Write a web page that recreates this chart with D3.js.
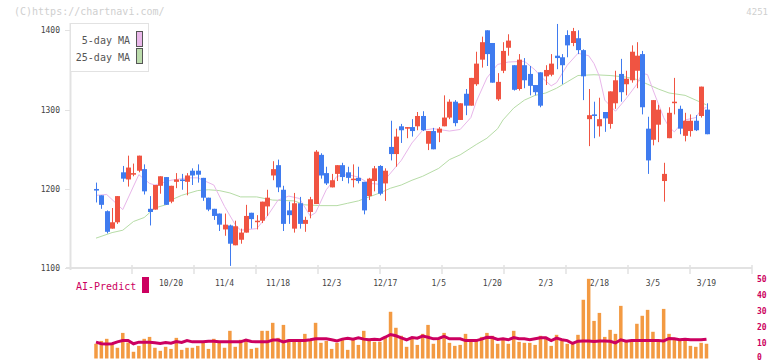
<!DOCTYPE html>
<html>
<head>
<meta charset="utf-8">
<script src="https://cdn.jsdelivr.net/npm/d3@7"></script>
<style>
	body { margin: 0; background: #fff; }
	text { font-family: "DejaVu Sans Mono", monospace; }
</style>
</head>
<body>
<svg id="chart"></svg>
<script>
// daily candles: open, high, low, close (red = up, blue = down)
var opens  = [1200,1192,1172,1150,1158,1221,1212,1218,1223,1225,1175,1174,1204,1215,1184,1209,1212,1209,1223,1223,1214,1189,1175,1169,1149,1154,1129,1136,1145,1170,
              1159,1160,1178,1217,1230,1199,1173,1150,1182,1156,1171,1181,1243,1220,1202,1219,1230,1221,1212,1214,1209,1191,1210,1229,1207,1253,1244,1279,1276,1278,
              1279,1292,1257,1273,1271,1279,1290,1310,1287,1320,1305,1332,1363,1400,1384,1313,1349,1378,1356,1326,1356,1345,1331,1347,1342,1344,1368,1366,1394,1384,
              1390,1375,1288,1294,1279,1297,1282,1308,1345,1332,1337,1349,1370,1276,1262,1281,1210,1264,1309,1301,1267,1273,1286,1292,1300];
var highs  = [1208,1192,1173,1176,1191,1229,1242,1232,1242,1231,1191,1205,1216,1215,1204,1220,1219,1220,1226,1231,1214,1189,1175,1169,1169,1155,1160,1150,1180,1170,
              1167,1184,1199,1235,1237,1204,1184,1195,1190,1165,1190,1249,1245,1228,1219,1230,1233,1228,1231,1228,1209,1214,1229,1230,1226,1286,1276,1282,1278,1288,
              1297,1298,1273,1277,1278,1318,1313,1312,1308,1326,1340,1373,1392,1400,1384,1346,1385,1395,1356,1370,1365,1355,1331,1347,1356,1370,1408,1370,1400,1403,
              1400,1376,1326,1310,1315,1297,1323,1349,1364,1349,1381,1385,1374,1291,1312,1306,1233,1303,1340,1305,1296,1294,1293,1329,1308];
var lows   = [1183,1175,1144,1150,1156,1209,1203,1216,1221,1193,1154,1174,1194,1180,1182,1201,1199,1192,1205,1208,1185,1172,1161,1147,1141,1103,1129,1131,1145,1150,
              1149,1157,1166,1211,1196,1147,1156,1145,1150,1146,1163,1181,1213,1205,1202,1210,1210,1207,1202,1207,1168,1186,1197,1192,1185,1236,1228,1258,1264,1266,
              1274,1273,1249,1250,1259,1279,1288,1279,1287,1293,1305,1330,1353,1355,1334,1311,1346,1368,1324,1324,1327,1318,1318,1303,1331,1342,1351,1332,1366,1380,
              1370,1312,1254,1264,1266,1272,1276,1301,1310,1318,1334,1327,1294,1219,1255,1259,1184,1264,1294,1269,1260,1266,1273,1290,1269];
var closes = [1198,1180,1146,1158,1191,1213,1227,1220,1242,1197,1171,1205,1216,1180,1204,1212,1210,1217,1217,1218,1189,1174,1166,1155,1155,1131,1153,1145,1166,1162,
              1160,1184,1189,1225,1202,1156,1167,1182,1156,1161,1187,1247,1217,1207,1211,1230,1215,1214,1213,1210,1173,1213,1226,1194,1223,1244,1266,1274,1278,1273,
              1292,1274,1273,1250,1276,1290,1310,1283,1308,1305,1340,1358,1385,1370,1334,1335,1374,1387,1325,1363,1337,1330,1322,1305,1350,1358,1365,1356,1381,1399,
              1375,1342,1293,1292,1288,1289,1323,1337,1322,1339,1373,1368,1303,1236,1312,1300,1219,1296,1310,1276,1286,1286,1274,1329,1269];

// volume (right axis) and AI-Predict line
var volumes = [9.2,11,12.3,9,6.7,16,10,4.2,7.9,12.3,13.5,6.7,4.8,7.3,6,12.9,5.4,6.7,6.7,7.9,9.8,6,12.3,10.4,6.7,17.3,7.3,11.7,11.7,6,
               6.7,17.3,17.3,22.3,12.9,21,11.7,11,11,15.4,11,22.3,9.8,11,6,9.8,11.7,5.4,11.7,8.5,17.3,11,10.4,10.4,13.5,29.2,19.2,14.2,7.3,12.3,
               8.5,15.4,21,9.2,11.7,16,9.8,7.9,8.5,15.4,11.7,11,13.5,16,14.2,9.2,11.7,9.2,17.3,10.4,9.8,9.8,8.5,14.2,13.5,7.9,14.8,11,9.2,9.2,
               14.8,36.7,49.8,23.5,28.5,13.5,17.9,15.4,32.9,11,11,21.7,26.7,30.4,16.7,11,31,15.4,12.9,11,12.3,7.9,7.3,9.8,9.2];
var aiPredict = [10.2,9.2,9,9.2,10.4,11.2,11.2,9.2,10.2,10.2,10.2,9.8,9.4,10,9.6,10.6,10,11.2,10.4,10.4,10.4,10.8,10.8,10.4,10.4,10.4,10.4,10.4,11.5,10.6,
                 10.4,10.4,10.4,11.5,11.5,10.4,11.2,11.2,11.2,11.2,11.7,12.3,12.3,12.3,11.7,11,12.1,12.7,12.1,12.9,12.1,11.7,12.1,11.7,13.3,15,14.2,12.9,11.7,13.1,
                 12.7,14,13.3,12.3,12.5,13.8,12.3,12.3,12.3,11.2,11.2,11.2,12.1,13.3,13.1,11.9,12.3,11.7,13.1,12.3,12.3,11.7,12.3,12.9,12.9,11.2,12.7,11.7,11.2,9.4,
                 10.8,11,11,10.6,11,11,10.8,9.8,11.7,10.8,11.2,11.2,11.2,11.2,11.2,11.2,11,12.5,12.3,11.7,12.1,11.7,11.7,11.7,12.1];

// moving averages: [day index, value]
var ma5 = [[0,1192],[2,1193],[5,1174],[8,1218],[10,1207],[11,1205],[14,1211],[17,1214],[19,1214],[22,1205],[24,1178],[26,1155],[27,1148],[30,1150],[32,1166],
           [34,1186],[36,1191],[38,1188],[40,1166],[41,1170],[43,1199],[45,1216],[47,1218],[49,1215],[51,1207],[53,1206],[54,1212],[56,1228],[57,1236],[59,1258],
           [61,1274],[63,1276],[66,1273],[68,1275],[70,1290],[71,1310],[73,1340],[75,1357],[77,1360],[80,1361],[82,1350],[83,1342],[85,1330],[86,1334],[88,1356],
           [90,1371],[92,1368],[93,1358],[94,1342],[95,1312],[97,1298],[99,1314],[101,1332],[102,1346],[103,1344],[104,1325],[106,1290],[107,1278],[108,1272],
           [109,1280],[110,1287],[112,1290],[113,1300],[114,1303]];
var ma25 = [[0,1138],[3,1145],[5,1148],[7,1159],[9,1164],[11,1176],[13,1180],[14,1186],[16,1192],[19,1198],[21,1199],[23,1198],[25,1195],[27,1190],[30,1190],
            [33,1186],[37,1185],[39,1180],[42,1179],[45,1179],[47,1182],[49,1185],[51,1190],[53,1195],[55,1201],[57,1205],[59,1211],[61,1216],[64,1226],[66,1237],
            [68,1243],[71,1256],[73,1264],[75,1276],[76,1287],[78,1302],[80,1312],[82,1318],[84,1321],[86,1327],[88,1335],[90,1343],[93,1344],[96,1343],[99,1341],
            [101,1338],[103,1332],[105,1326],[107,1321],[110,1318],[112,1312],[114,1306]];

var priceTicks = [1100,1200,1300,1400];
var volTicks = [0,10,20,30,40,50];
var dateIdx = [14,24,34,44,54,64,74,84,94,104,114];
var dateLabels = ["10/20","11/4","11/18","12/3","12/17","1/5","1/20","2/3","2/18","3/5","3/19"];

var W = 772, H = 361;
var RED = "#f05442", BLUE = "#3f7bef", MAG = "#cc0060", GRID = "#e2e2e2";

var svg = d3.select("#chart").attr("width", W).attr("height", H);

var x = d3.scaleLinear().domain([0, opens.length - 1]).range([96, 706.5]);
var y = d3.scaleLinear().domain([1100, 1400]).range([268.3, 30.3]);
var yv = d3.scaleLinear().domain([0, 50]).range([358.5, 278.5]);

// header
svg.append("text").attr("x", 14).attr("y", 15).attr("font-size", 10)
	.attr("fill", "#cfcfcf").text("(C)https://chartnavi.com/");
svg.append("text").attr("x", 768).attr("y", 15).attr("font-size", 9).attr("text-anchor", "end")
	.attr("fill", "#cfcfcf").text("4251");

// axes frame
svg.append("line").attr("x1", 70.5).attr("x2", 70.5).attr("y1", 23).attr("y2", 270)
	.attr("stroke", GRID).attr("stroke-width", 2);
svg.append("line").attr("x1", 66).attr("x2", 752).attr("y1", 268).attr("y2", 268)
	.attr("stroke", GRID).attr("stroke-width", 2);
svg.selectAll(".xtick").data(d3.range(1, 12)).enter().append("line")
	.attr("x1", function(d){ return 70 + d * 62; })
	.attr("x2", function(d){ return 70 + d * 62; })
	.attr("y1", 265).attr("y2", 274)
	.attr("stroke", GRID).attr("stroke-width", 1.5);

// price axis
var pt = svg.selectAll(".ptick").data(priceTicks).enter().append("g");
pt.append("line").attr("x1", 65).attr("x2", 70)
	.attr("y1", function(d){ return Math.round(y(d)) + 0.5; })
	.attr("y2", function(d){ return Math.round(y(d)) + 0.5; })
	.attr("stroke", GRID);
pt.append("text").attr("x", 60).attr("text-anchor", "end").attr("font-size", 8)
	.attr("y", function(d){ return y(d) + 3; }).attr("fill", "#444").text(function(d){ return d; });

// date labels
svg.selectAll(".dlab").data(dateIdx).enter().append("text")
	.attr("x", function(d){ return x(d); }).attr("y", 286)
	.attr("text-anchor", "middle").attr("font-size", 8).attr("fill", "#444")
	.text(function(d, i){ return dateLabels[i]; });

// moving averages
var maLine = d3.line().x(function(d){ return x(d[0]); }).y(function(d){ return y(d[1]); });
svg.append("path").datum(ma25).attr("d", maLine).attr("fill", "none")
	.attr("stroke", "#b6dca6").attr("stroke-width", 1);
svg.append("path").datum(ma5).attr("d", maLine).attr("fill", "none")
	.attr("stroke", "#e8b6ea").attr("stroke-width", 1);

// candles
var candles = svg.selectAll(".candle").data(opens).enter().append("g");
candles.append("line")
	.attr("x1", function(d, i){ return Math.round(x(i)) + 0.5; })
	.attr("x2", function(d, i){ return Math.round(x(i)) + 0.5; })
	.attr("y1", function(d, i){ return y(highs[i]); })
	.attr("y2", function(d, i){ return y(lows[i]); })
	.attr("stroke", function(d, i){ return closes[i] >= d ? RED : BLUE; })
	.attr("stroke-width", 1);
candles.append("rect")
	.attr("x", function(d, i){ return Math.round(x(i)) - 2; })
	.attr("width", 5)
	.attr("y", function(d, i){ return y(Math.max(d, closes[i])); })
	.attr("height", function(d, i){ return Math.max(1.5, Math.abs(y(d) - y(closes[i]))); })
	.attr("fill", function(d, i){ return closes[i] >= d ? RED : BLUE; });

// legend
svg.append("rect").attr("x", 70.5).attr("y", 23.5).attr("width", 78).attr("height", 48)
	.attr("fill", "#fff").attr("stroke", GRID);
var legend = [["5-day MA", "#eab8ea", 31.5], ["25-day MA", "#bcdcac", 48.5]];
legend.forEach(function(l){
	svg.append("text").attr("x", 130).attr("y", l[2] + 12).attr("text-anchor", "end")
		.attr("font-size", 10).attr("fill", "#555").text(l[0]);
	svg.append("rect").attr("x", 136.5).attr("y", l[2]).attr("width", 6).attr("height", 15)
		.attr("fill", l[1]).attr("stroke", "#555");
});

// volume panel
svg.selectAll(".vol").data(volumes).enter().append("rect")
	.attr("x", function(d, i){ return x(i) - 1.75; })
	.attr("width", 3.5)
	.attr("y", function(d){ return yv(d); })
	.attr("height", function(d){ return yv(0) - yv(d); })
	.attr("fill", "#f39a42");

svg.append("path").datum(aiPredict)
	.attr("d", d3.line().x(function(d, i){ return x(i); }).y(function(d){ return yv(d); }))
	.attr("fill", "none").attr("stroke", MAG).attr("stroke-width", 3);

svg.selectAll(".vtick").data(volTicks).enter().append("text")
	.attr("x", 757).attr("y", function(d){ return Math.min(yv(d) + 3, 359.5); })
	.attr("font-size", 8).attr("font-weight", "bold").attr("fill", MAG)
	.text(function(d){ return d; });

svg.append("text").attr("x", 76).attr("y", 290).attr("font-size", 10).attr("fill", MAG).text("AI-Predict");
svg.append("rect").attr("x", 142).attr("y", 277).attr("width", 7).attr("height", 16).attr("fill", MAG);
</script>
</body>
</html>
